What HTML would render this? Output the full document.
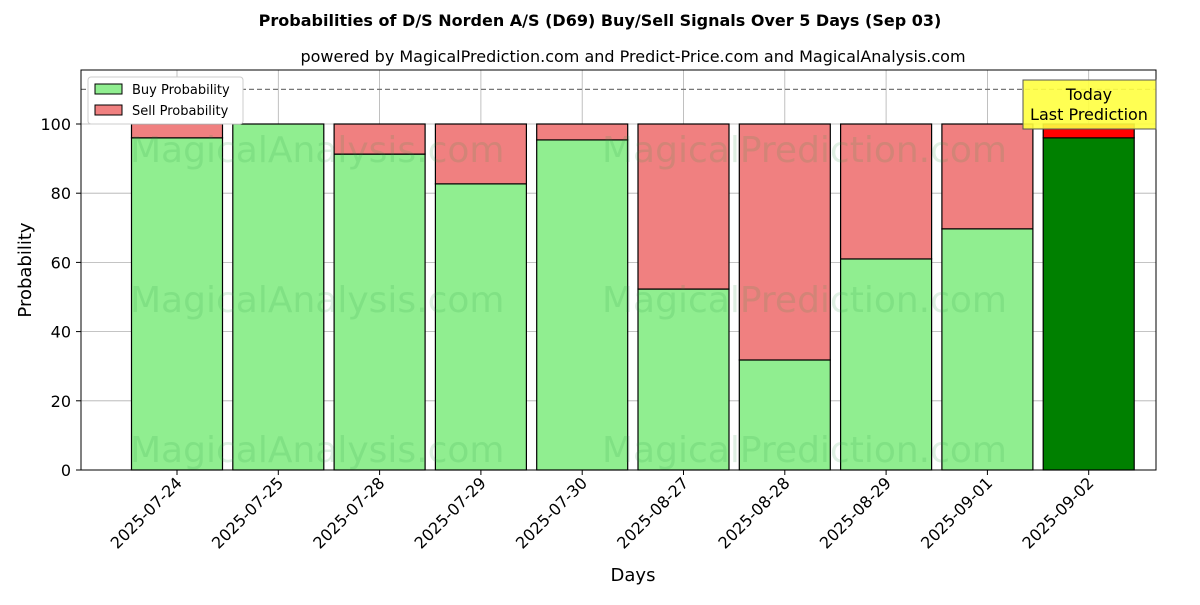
<!DOCTYPE html>
<html><head><meta charset="utf-8"><style>
body{margin:0;background:#fff;}
svg{font-family:"DejaVu Sans","Liberation Sans",sans-serif;}
</style></head><body>
<svg id="c" width="1200" height="600" xmlns="http://www.w3.org/2000/svg">
<text x="600" y="26" text-anchor="middle" font-size="16" font-weight="bold">Probabilities of D/S Norden A/S (D69) Buy/Sell Signals Over 5 Days (Sep 03)</text>
<text x="633" y="62" text-anchor="middle" font-size="16">powered by MagicalPrediction.com and Predict-Price.com and MagicalAnalysis.com</text>
<g id="grid"></g>
<g id="bars"></g>
<g font-size="36" fill="#2a9d40" fill-opacity="0.15">
<text x="130" y="162">MagicalAnalysis.com</text><text x="602" y="162">MagicalPrediction.com</text>
<text x="130" y="312">MagicalAnalysis.com</text><text x="602" y="312">MagicalPrediction.com</text>
<text x="130" y="462">MagicalAnalysis.com</text><text x="602" y="462">MagicalPrediction.com</text>
</g>
<line x1="81" x2="1156" y1="89.4" y2="89.4" stroke="#777" stroke-dasharray="5,3" stroke-width="1.2"/>
<rect x="81" y="70" width="1075" height="400" fill="none" stroke="#000" stroke-width="1"/>
<g id="axes"></g>
<g>
<rect x="88" y="77" width="155" height="47" fill="#fff" stroke="#ccc" rx="3"/>
<rect x="95" y="84" width="27" height="10" fill="#90ee90" stroke="#000"/>
<text x="132" y="94" font-size="13">Buy Probability</text>
<rect x="95" y="105" width="27" height="10" fill="#f08080" stroke="#000"/>
<text x="132" y="115" font-size="13">Sell Probability</text>
</g>
<g>
<rect x="1023" y="80" width="133" height="49" fill="#ffff40" stroke="#555" fill-opacity="0.9"/>
<text x="1089" y="100" text-anchor="middle" font-size="16">Today</text>
<text x="1089" y="120" text-anchor="middle" font-size="16">Last Prediction</text>
</g>
<text x="633" y="581" text-anchor="middle" font-size="18">Days</text>
<text transform="translate(31,270) rotate(-90)" text-anchor="middle" font-size="18">Probability</text>
</svg>
<script>
const categories=["2025-07-24","2025-07-25","2025-07-28","2025-07-29","2025-07-30","2025-08-27","2025-08-28","2025-08-29","2025-09-01","2025-09-02"];
const buyValues=[96.0,100,91.3,82.7,95.4,52.3,31.8,61.0,69.7,96.0];
const sellValues=[4.0,0,8.7,17.3,4.6,47.7,68.2,39.0,30.3,4.0];
const yTicks=[0,20,40,60,80,100];
const NS="http://www.w3.org/2000/svg";
const xS=i=>177+i*101.3;
const yS=v=>470-v*3.46;
const bw=91;
function mk(t,a,p){const e=document.createElementNS(NS,t);for(const k in a)e.setAttribute(k,a[k]);p.appendChild(e);return e;}
const grid=document.getElementById('grid'),bars=document.getElementById('bars'),axes=document.getElementById('axes');
yTicks.forEach(v=>{
 const l=mk('line',{x1:81,x2:1156,y1:yS(v),y2:yS(v),stroke:'#b0b0b0','stroke-width':0.8},grid);
 
 
 mk('line',{x1:76,x2:81,y1:yS(v),y2:yS(v),stroke:'#000'},axes);
 const t=mk('text',{x:71,y:yS(v)+6,'text-anchor':'end','font-size':16},axes);t.textContent=v;
 
 
});
categories.forEach((c,i)=>{
 const x=xS(i);
 const g=mk('line',{x1:x,x2:x,y1:70,y2:470,stroke:'#b0b0b0','stroke-width':0.8},grid);
 
 
 const last=i===categories.length-1;
 const b=mk('rect',{x:x-bw/2,y:yS(buyValues[i]),width:bw,height:yS(0)-yS(buyValues[i]),fill:last?'#008000':'#90ee90',stroke:'#000','stroke-width':1.2},bars);
 
 
 const s=mk('rect',{x:x-bw/2,y:yS(buyValues[i]+sellValues[i]),width:bw,height:yS(buyValues[i])-yS(buyValues[i]+sellValues[i]),fill:last?'#ff0000':'#f08080',stroke:'#000','stroke-width':1.2},bars);
 
 
 mk('line',{x1:x,x2:x,y1:470,y2:475,stroke:'#000'},axes);
 const t=mk('text',{x:x+6,y:484,'text-anchor':'end','font-size':16,transform:`rotate(-45 ${x+6} 484)`},axes);t.textContent=c;
 
 
});
</script>
</body></html>
